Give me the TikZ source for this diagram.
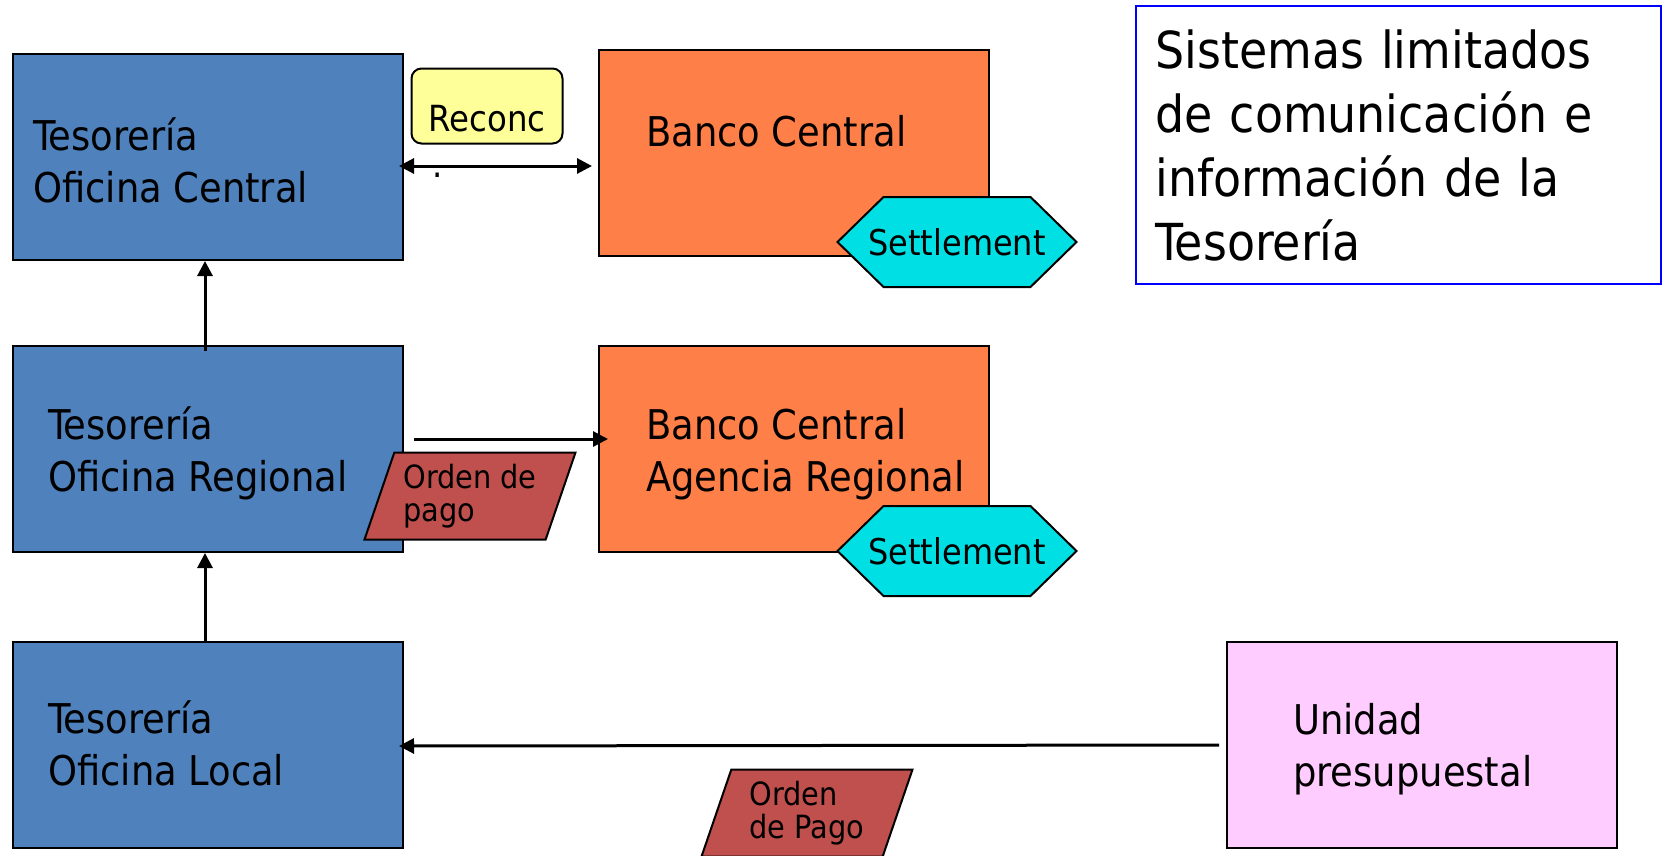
\documentclass[tikz,border=0pt]{standalone}
\usepackage{fontspec}
\setmainfont{DejaVu Sans Condensed}
\usepackage{tikz}
\usetikzlibrary{arrows.meta,positioning,shapes.geometric}
\definecolor{tesblue}{HTML}{4F81BD}
\definecolor{bancoorange}{HTML}{FF7F48}
\definecolor{settlecyan}{HTML}{00DFE3}
\definecolor{reconcyellow}{HTML}{FFFF99}
\definecolor{ordenred}{HTML}{C0504D}
\definecolor{unidadpink}{HTML}{FFCCFF}
\definecolor{titleblue}{HTML}{0000FF}
\tikzset{
  officebox/.style={
    rectangle, draw=black, fill=#1, line width=2pt,
    minimum width=390pt, minimum height=206pt,
    inner sep=0pt
  },
  officebox/.default=tesblue,
  boxtext/.style={
    font=\fontsize{41}{52}\selectfont, align=left,
    anchor=base west, inner sep=0pt
  },
  settlebox/.style={
    rectangle, minimum width=245pt, minimum height=94pt, inner sep=0pt,
    font=\fontsize{35.5}{40}\selectfont,
    path picture={
      \draw[black, fill=settlecyan, line width=2pt]
        ([xshift=3pt]path picture bounding box.west)
        -- ([xshift=49pt, yshift=-2pt]path picture bounding box.north west)
        -- ([xshift=-49pt, yshift=-2pt]path picture bounding box.north east)
        -- ([xshift=-3pt]path picture bounding box.east)
        -- ([xshift=-49pt, yshift=2pt]path picture bounding box.south east)
        -- ([xshift=49pt, yshift=2pt]path picture bounding box.south west)
        -- cycle;
    }
  },
  ordenbox/.style={
    shape=trapezium, trapezium left angle=65, trapezium right angle=115,
    trapezium stretches body, draw=black, fill=ordenred, line width=2pt,
    minimum width=211pt, minimum height=87pt, inner sep=0pt,
    align=left, font=\fontsize{32}{33}\selectfont
  },
  reconcbox/.style={
    rectangle, rounded corners=10pt, draw=black, fill=reconcyellow,
    line width=2pt, minimum width=151pt, inner xsep=0pt, inner ysep=0pt,
    text height=63pt, text depth=12pt,
    font=\fontsize{36}{44}\selectfont
  },
  titlebox/.style={
    rectangle, draw=titleblue, line width=2pt,
    minimum width=525pt, minimum height=278pt,
    inner xsep=20pt, inner ysep=0pt, text width=485pt, align=left,
    font=\fontsize{51}{64}\selectfont
  },
  dataarrow/.style={
    -{Triangle[length=15pt,width=15pt]}, line width=3pt
  },
}
\begin{document}
\begin{tikzpicture}[x=1pt, y=-1pt, node distance=84pt and 194pt]
  \useasboundingbox (0,0) rectangle (1664,855);

  % Tesoreria column
  \node[officebox] (tesoc) at (208,157) {};
  \node[officebox, below=of tesoc] (tesor) {};
  \node[officebox, below=88pt of tesor] (tesol) {};

  % Banco Central column
  \node[officebox=bancoorange, right=of tesoc, yshift=4pt] (banco) {};
  \node[officebox=bancoorange, right=of tesor] (bancoreg) {};
  \node[officebox=unidadpink, right=822pt of tesol, minimum width=390pt] (unidad) {};

  % texts of the boxes (base = last line)
  \node[boxtext] (tesoctext) at (33,202) {Tesorería\\Oficina Central};
  \node[boxtext] (tesortext) at (48,491) {Tesorería\\Oficina Regional};
  \node[boxtext] (tesoltext) at (48,785) {Tesorería\\Oficina Local};
  \node[boxtext] (bancotext) at (646,146) {Banco Central};
  \node[boxtext] (bancoregtext) at (646,491) {Banco Central\\Agencia Regional};
  \node[boxtext] (unidadtext) at (1293,786) {Unidad\\presupuestal};

  % connectors
  \draw[dataarrow] ([xshift=-3pt]tesol.north) -- ([xshift=-3pt]tesor.south);
  \draw[dataarrow] ([xshift=-3pt, yshift=-6pt]tesor.north) -- ([xshift=-3pt]tesoc.south);
  \draw[dataarrow, {Triangle[length=15pt,width=15pt]}-{Triangle[length=15pt,width=15pt]}]
    ([xshift=-5pt, yshift=-9pt]tesoc.east) -- ([xshift=-6pt, yshift=-9pt]tesoc.east -| banco.west);
  \draw[dataarrow] ([xshift=10pt, yshift=10pt]tesor.east) -- ([xshift=10pt, yshift=10pt]bancoreg.west);
  \draw[dataarrow] ([xshift=-7pt]unidad.west) -- ([xshift=-5pt, yshift=-1pt]tesol.east);

  % Reconc
  \node[reconcbox] (reconc) at (487,106) {Reconc};
  \node[font=\fontsize{36}{44}\selectfont, anchor=base west, inner sep=0pt] (reconcdot) at (432,177) {.};

  % Settlement
  \node[settlebox] (settle) at ([xshift=-33pt, yshift=15pt]banco.south east) {Settlement};
  \node[settlebox] (settlereg) at ([xshift=-33pt, yshift=2pt]bancoreg.south east) {Settlement};

  % Orden de pago
  \node[ordenbox] (ordenreg) at (470,496) {Orden de\\pago};
  \node[ordenbox] (ordenloc) at (807,813) {Orden\\de Pago};

  % title
  \node[titlebox] (title) at (1398,145)
    {Sistemas limitados\\de comunicación e\\información de la\\Tesorería};
\end{tikzpicture}
\end{document}
